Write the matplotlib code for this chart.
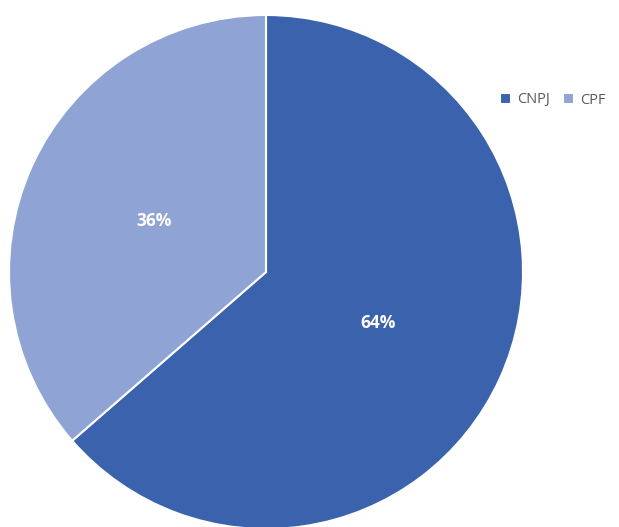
import matplotlib.pyplot as plt

# dados do gráfico
categorias = ['CNPJ', 'CPF']
valores = [63.6, 36.4]
cores = ['#3A62AD', '#8FA3D4']

plt.rcParams['font.family'] = ['Open Sans', 'DejaVu Sans']

fig = plt.figure(figsize=(6.19, 5.27), dpi=100)
ax = fig.add_axes([9 / 619, (527 - 272 - 257) / 527, 514 / 619, 514 / 527])

wedges, textos, pcts = ax.pie(
    valores,
    colors=cores,
    startangle=90,
    counterclock=False,
    autopct='%1.0f%%',
    pctdistance=0.48,
    wedgeprops={'edgecolor': 'white', 'linewidth': 1.5},
)
for t in pcts:
    t.set_color('white')
    t.set_fontweight('bold')
    t.set_fontsize(12.5)

ax.set_xlim(-1, 1)
ax.set_ylim(-1, 1)
ax.set_aspect('equal')

fig.legend(
    wedges, categorias,
    loc='center left', bbox_to_anchor=(487 / 619, 1 - 100 / 527),
    ncol=2, frameon=False, fontsize=10.5,
    handlelength=0.75, handleheight=0.75, handletextpad=0.4,
    columnspacing=0.9, labelcolor='#595959',
)

fig.savefig('out.png', dpi=100)
